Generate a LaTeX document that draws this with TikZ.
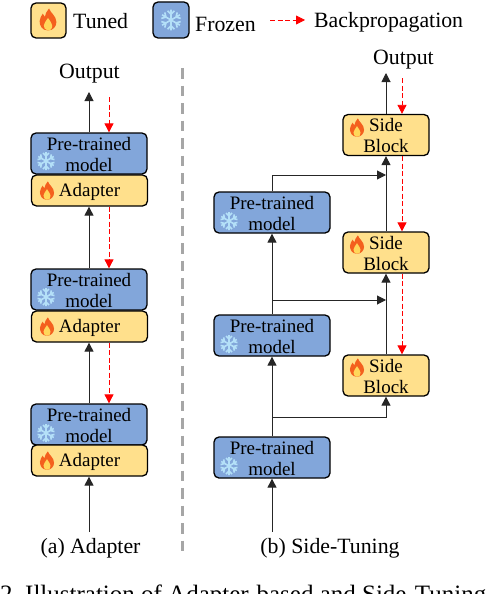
\documentclass[tikz,border=0pt]{standalone}
\usepackage{fontspec}
\setmainfont{Liberation Serif}
\usetikzlibrary{arrows.meta, positioning}

\definecolor{tunedcol}{HTML}{FFE08C}
\definecolor{frozencol}{HTML}{82A6DA}
\definecolor{firecol}{HTML}{F4601E}
\definecolor{coalcol}{HTML}{FFD75A}
\definecolor{snowcol}{HTML}{B4E0F8}

\tikzset{
    block/.style={draw=black, line width=1.3pt, rounded corners=5pt, inner sep=0pt, align=center, text height=36pt, font=\fontsize{19}{21}\selectfont},
    frozen/.style={block, fill=frozencol, minimum width=116pt, minimum height=41pt},
    tuned/.style={block, fill=tunedcol, minimum width=116pt, minimum height=31pt, text height=16pt},
    side/.style={block, fill=tunedcol, minimum width=86pt, minimum height=41pt},
    label/.style={inner sep=0pt, font=\fontsize{21.8}{24}\selectfont},
    fwd/.style={-{Triangle[length=9pt, width=9pt]}, line width=1pt, black!85},
    back/.style={-{Triangle[length=9pt, width=9pt]}, red, line width=0.8pt, dash pattern=on 5pt off 2.5pt},
    fireicon/.pic={
        \fill[firecol] (0,10) .. controls (-6,10) and (-8,5) .. (-8,1) .. controls (-8,-2) and (-6,-4) .. (-5,-6)
            .. controls (-4,-4) .. (-3,-3) .. controls (-3,-6) and (-1,-8) .. (1,-11)
            .. controls (2,-7) and (8,-4) .. (8,2) .. controls (8,6) and (5,10) .. (0,10) -- cycle;
        \fill[coalcol] (0,10) .. controls (-3,10) and (-4,7) .. (-4,5) .. controls (-4,2) and (-1,1) .. (0,-2)
            .. controls (1,1) and (4,2) .. (4,5) .. controls (4,8) and (3,10) .. (0,10) -- cycle;
    },
    snowicon/.pic={
        \foreach \a in {0,60,...,300} {
            \begin{scope}[rotate=\a]
                \draw[snowcol, line width=1.6pt] (0,0) -- (0,9) (-3,8) -- (0,5) -- (3,8);
            \end{scope}
        }
    },
}

\begin{document}
\begin{tikzpicture}[x=1pt, y=-1pt]
    \useasboundingbox (0,0) rectangle (492,594);
    \clip (0,0) rectangle (492,594);

    % legend
    \node[block, text height=0pt, fill=tunedcol, minimum width=35pt, minimum height=35pt] (legTuned) at (48.5,20.5) {};
    \pic[scale=1.05] at (48,20) {fireicon};
    \node[label, anchor=west] (txtTuned) at (73,21) {Tuned};
    \node[block, text height=0pt, fill=frozencol, minimum width=36pt, minimum height=36pt] (legFrozen) at (171,20) {};
    \pic[scale=1.15] at (171,20) {snowicon};
    \node[label, anchor=west] (txtFrozen) at (195,24) {Frozen};
    \coordinate (legBackA) at (270,20);
    \coordinate (legBackB) at (305,20);
    \draw[back] (legBackA) -- (legBackB);
    \node[label, anchor=west] (txtBack) at (314,22) {Backpropagation};

    % adapter column
    \node[label] (outA) at (89.5,74) {Output};
    \node[frozen] (ptA) at (89,153.5) {Pre-trained\\model};
    \node[tuned] (adA) at (89.5,190.5) {Adapter};
    \node[frozen] (ptB) at (89,289.5) {Pre-trained\\model};
    \node[tuned] (adB) at (89.5,326.5) {Adapter};
    \node[frozen] (ptC) at (89,424.5) {Pre-trained\\model};
    \node[tuned] (adC) at (89.5,460.5) {Adapter};
    \foreach \y in {161,297,433} \pic at (46,\y) {snowicon};
    \foreach \y in {191,327,461} \pic[scale=0.88] at (47,\y) {fireicon};

    \coordinate (outAtip) at (89,92);
    \coordinate (inA) at (89,532);
    \draw[fwd] (ptA.north) -- (outAtip);
    \draw[fwd] (ptB.north) -- (ptB.north |- adA.south);
    \draw[fwd] (ptC.north) -- (ptC.north |- adB.south);
    \draw[fwd] (inA) -- (inA |- adC.south);

    \coordinate (backA) at (109,97);
    \draw[back] (backA) -- (backA |- ptA.north);
    \draw[back] (backA |- adA.south) -- (backA |- ptB.north);
    \draw[back] (backA |- adB.south) -- (backA |- ptC.north);

    % separator
    \coordinate (sepTop) at (182,68);
    \coordinate (sepBot) at (182,556);
    \draw[black!35, line width=3pt, dash pattern=on 10.5pt off 7pt] (sepTop) -- (sepBot);

    % side-tuning column
    \node[label] (outB) at (403.5,60) {Output};
    \node[side] (sideA) at (386,135) {Side\\Block};
    \node[side] (sideB) at (386,252.5) {Side\\Block};
    \node[side] (sideC) at (386,375.5) {Side\\Block};
    \node[frozen] (modA) at (272,212.5) {Pre-trained\\model};
    \node[frozen] (modB) at (272,335.5) {Pre-trained\\model};
    \node[frozen] (modC) at (272,457.5) {Pre-trained\\model};
    \foreach \y in {221,344,466} \pic at (229,\y) {snowicon};
    \foreach \y in {128,245,368} \pic[scale=0.88] at (357,\y) {fireicon};

    \coordinate (outBtip) at (386,73);
    \coordinate (inB) at (272,532);
    \coordinate (joinA) at (386,175);
    \coordinate (joinB) at (386,300);
    \coordinate (tapB) at (272,300);
    \coordinate (tapC) at (272,417);
    \draw[fwd] (sideA.north) -- (outBtip);
    \draw[fwd] (sideB.north) -- (sideA.south);
    \draw[fwd] (sideC.north) -- (sideB.south);
    \draw[fwd] (modB.north) -- (modA.south);
    \draw[fwd] (modC.north) -- (modB.south);
    \draw[fwd] (inB) -- (modC.south);
    \draw[fwd] (modA.north) |- (joinA);
    \draw[fwd] (tapB) -- (joinB);
    \draw[fwd] (tapC) -| (sideC.south);

    \coordinate (backB) at (402,78);
    \draw[back] (backB) -- (backB |- sideA.north);
    \draw[back] (backB |- sideA.south) -- (backB |- sideB.north);
    \draw[back] (backB |- sideB.south) -- (backB |- sideC.north);

    % captions
    \node[label] (capA) at (90.5,548.5) {(a) Adapter};
    \node[label] (capB) at (330,548.5) {(b) Side-Tuning};
    \node[label, anchor=base west, font=\fontsize{25}{26}\selectfont] (capFig) at (0,602) {2.\ Illustration of Adapter-based and Side-Tuning};
\end{tikzpicture}
\end{document}
